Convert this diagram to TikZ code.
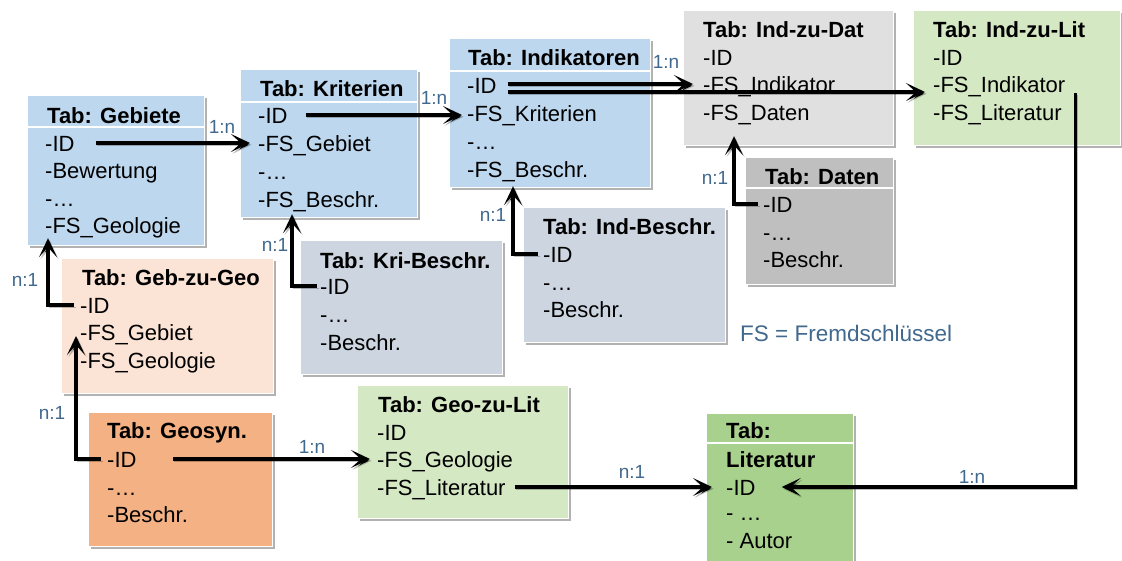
\documentclass[tikz,border=0pt]{standalone}
\usepackage{fontspec}
\setmainfont{Liberation Sans}
\usetikzlibrary{arrows.meta,shadows,calc}

\definecolor{cBlue}{HTML}{BDD7EE}
\definecolor{cGrayL}{HTML}{E0E0E0}
\definecolor{cGrayD}{HTML}{BFBFBF}
\definecolor{cSlate}{HTML}{CDD5E0}
\definecolor{cPeach}{HTML}{FBE3D6}
\definecolor{cOrange}{HTML}{F4B183}
\definecolor{cGreenL}{HTML}{D5E8C4}
\definecolor{cGreen}{HTML}{A9D18E}
\definecolor{labelc}{HTML}{41698E}

\tikzset{
  tbl/.style={rectangle, draw=white, line width=1.2pt, inner sep=0pt, anchor=north west,
    drop shadow={shadow xshift=2pt, shadow yshift=-2.5pt, opacity=0.3, fill=black}},
  ttl/.style={anchor=base west, inner sep=0pt, text height=16pt, text depth=0pt,
    font=\fontsize{22}{26}\selectfont\bfseries},
  itm/.style={anchor=base west, inner sep=0pt, text height=16pt, text depth=0pt,
    font=\fontsize{22}{26}\selectfont},
  rel/.style={text=labelc, inner sep=0pt, font=\fontsize{19}{22}\selectfont},
  sepline/.style={draw=white, line width=1.5pt},
  link/.style={line width=3.6pt, line join=miter,
    -{Stealth[length=19pt,width=18pt,inset=10pt]},
    preaction={draw=black, draw opacity=0.25, transform canvas={xshift=1.5pt,yshift=-1.8pt}}}
}

\begin{document}
\begin{tikzpicture}[x=1pt,y=-1pt]
\useasboundingbox[fill=white] (0,0) rectangle (1122,560);

% ---- tables ----
\node[tbl, fill=cBlue, minimum width=177pt, minimum height=150pt] (geb) at (27,95) {};
\node[tbl, fill=cBlue, minimum width=177pt, minimum height=148pt] (kri) at (240,69) {};
\node[tbl, fill=cBlue, minimum width=201pt, minimum height=149pt] (ind) at (449,38) {};
\node[tbl, fill=cGrayL, minimum width=210pt, minimum height=135pt] (izd) at (683,10) {};
\node[tbl, fill=cGreenL, minimum width=207pt, minimum height=135pt] (izl) at (913,10) {};
\node[tbl, fill=cGrayD, minimum width=148pt, minimum height=127pt] (dat) at (745,157) {};
\node[tbl, fill=cSlate, minimum width=202pt, minimum height=135pt] (ibe) at (523,207) {};
\node[tbl, fill=cSlate, minimum width=202pt, minimum height=134pt] (kbe) at (300,240) {};
\node[tbl, fill=cPeach, minimum width=212pt, minimum height=135pt] (gzg) at (61,258) {};
\node[tbl, fill=cOrange, minimum width=184pt, minimum height=134pt] (geo) at (88,412) {};
\node[tbl, fill=cGreenL, minimum width=211pt, minimum height=133pt] (gzl) at (357,385) {};
\node[tbl, fill=cGreen, minimum width=147pt, minimum height=152pt] (lit) at (706,413) {};

% header separators
\draw[sepline] ($(geb.north west)+(0,32)$) -- ($(geb.north east)+(0,32)$);
\draw[sepline] ($(kri.north west)+(0,33)$) -- ($(kri.north east)+(0,33)$);
\draw[sepline] ($(ind.north west)+(0,33)$) -- ($(ind.north east)+(0,33)$);
\draw[sepline] ($(dat.north west)+(0,31)$) -- ($(dat.north east)+(0,31)$);
\draw[sepline] ($(lit.north west)+(0,30)$) -- ($(lit.north east)+(0,30)$);

% ---- table contents ----
\node[ttl] (geb-t) at (47,123) {Tab: Gebiete};
\node[itm] (geb-id) at (45,151) {-ID};
\node[itm] (geb-bew) at (45,178) {-Bewertung};
\node[itm] (geb-dots) at (45,206) {-…};
\node[itm] (geb-geo) at (45,233) {-FS\_Geologie};

\node[ttl] (kri-t) at (260,96) {Tab: Kriterien};
\node[itm] (kri-id) at (258,123) {-ID};
\node[itm] (kri-geb) at (258,151) {-FS\_Gebiet};
\node[itm] (kri-dots) at (258,179) {-…};
\node[itm] (kri-bes) at (258,207) {-FS\_Beschr.};

\node[ttl] (ind-t) at (468,65) {Tab: Indikatoren};
\node[itm] (ind-id) at (467,93) {-ID};
\node[itm] (ind-kri) at (467,121) {-FS\_Kriterien};
\node[itm] (ind-dots) at (467,149) {-…};
\node[itm] (ind-bes) at (467,177) {-FS\_Beschr.};

\node[ttl] (izd-t) at (703,37) {Tab: Ind-zu-Dat};
\node[itm] (izd-id) at (703,65) {-ID};
\node[itm] (izd-ind) at (703,92) {-FS\_Indikator};
\node[itm] (izd-dat) at (703,120) {-FS\_Daten};

\node[ttl] (izl-t) at (933,37) {Tab: Ind-zu-Lit};
\node[itm] (izl-id) at (933,65) {-ID};
\node[itm] (izl-ind) at (933,92) {-FS\_Indikator};
\node[itm] (izl-lit) at (933,120) {-FS\_Literatur};

\node[ttl] (dat-t) at (765,184) {Tab: Daten};
\node[itm] (dat-id) at (763,212) {-ID};
\node[itm] (dat-dots) at (763,240) {-…};
\node[itm] (dat-bes) at (763,267) {-Beschr.};

\node[ttl] (ibe-t) at (543,234) {Tab: Ind-Beschr.};
\node[itm] (ibe-id) at (543,262) {-ID};
\node[itm] (ibe-dots) at (543,290) {-…};
\node[itm] (ibe-bes) at (543,317) {-Beschr.};

\node[ttl] (kbe-t) at (320,268) {Tab: Kri-Beschr.};
\node[itm] (kbe-id) at (320,294) {-ID};
\node[itm] (kbe-dots) at (320,322) {-…};
\node[itm] (kbe-bes) at (320,350) {-Beschr.};

\node[ttl] (gzg-t) at (82,285) {Tab: Geb-zu-Geo};
\node[itm] (gzg-id) at (80,313) {-ID};
\node[itm] (gzg-geb) at (80,340) {-FS\_Gebiet};
\node[itm] (gzg-geo) at (80,368) {-FS\_Geologie};

\node[ttl] (geo-t) at (107,438) {Tab: Geosyn.};
\node[itm] (geo-id) at (107,467) {-ID};
\node[itm] (geo-dots) at (107,495) {-…};
\node[itm] (geo-bes) at (107,522) {-Beschr.};

\node[ttl] (gzl-t) at (378,412) {Tab: Geo-zu-Lit};
\node[itm] (gzl-id) at (377,440) {-ID};
\node[itm] (gzl-geo) at (377,467) {-FS\_Geologie};
\node[itm] (gzl-lit) at (377,495) {-FS\_Literatur};

\node[ttl] (lit-t) at (726,438) {Tab:};
\node[ttl] (lit-n) at (726,467) {Literatur};
\node[itm] (lit-id) at (726,495) {-ID};
\node[itm] (lit-dots) at (726,520) {- …};
\node[itm] (lit-aut) at (726,548) {- Autor};

\node[text=labelc, inner sep=0pt, anchor=base west, font=\fontsize{22.5}{26}\selectfont]
  (legend) at (740,341) {FS = Fremdschlüssel};

% ---- relations ----
\coordinate (s1) at ($(geb-id.east)+(21,0)$);
\draw[link] (s1) -- ($(s1 -| kri-geb.west)+(-8,0)$);
\coordinate (s2) at ($(kri-id.east)+(18,0)$);
\draw[link] (s2) -- ($(s2 -| ind-kri.west)+(-5,0)$);
\coordinate (s3a) at ($(ind-id.east)+(11,-1)$);
\draw[link] (s3a) -- ($(s3a -| izd-ind.west)+(-10,0)$);
\coordinate (s3b) at ($(ind-id.east)+(11,7)$);
\draw[link] (s3b) -- ($(s3b -| izl-ind.west)+(-8,0)$);
\draw[link] ($(dat-id.west)+(-5,0)$) -| ($(izd.south west)+(51,-10)$);
\draw[link] ($(ibe-id.west)+(-5,0)$) -| ($(ind.south west)+(64,-2)$);
\draw[link] ($(kbe-id.west)+(-3,0)$) -| ($(kri.south west)+(52,-4)$);
\draw[link] ($(gzg-id.west)+(-6,0)$) -| ($(geb.south west)+(21,-8)$);
\draw[link] ($(geo-id.west)+(-6,0)$) -| ($(gzg-geb.west)+(-4,4)$);
\coordinate (s9) at ($(geo-id.east)+(36,0)$);
\draw[link] (s9) -- ($(s9 -| gzl-geo.west)+(-7,0)$);
\coordinate (s10) at ($(gzl-lit.east)+(9,0)$);
\draw[link] (s10) -- ($(s10 -| lit-id.west)+(-14,0)$);
\draw[link] ($(izl-ind.east)+(10,9)$) |- ($(lit-id.east)+(26,0)$);

% ---- cardinalities ----
\node[rel] (r1) at (222,127) {1:n};
\node[rel] (r2) at (434,98) {1:n};
\node[rel] (r3) at (666,62) {1:n};
\node[rel] (r4) at (715,178) {n:1};
\node[rel] (r5) at (493,215) {n:1};
\node[rel] (r6) at (275,245) {n:1};
\node[rel] (r7) at (25,280) {n:1};
\node[rel] (r8) at (52,413) {n:1};
\node[rel] (r9) at (312,447) {1:n};
\node[rel] (r10) at (632,472) {n:1};
\node[rel] (r11) at (972,477) {1:n};
\end{tikzpicture}
\end{document}
